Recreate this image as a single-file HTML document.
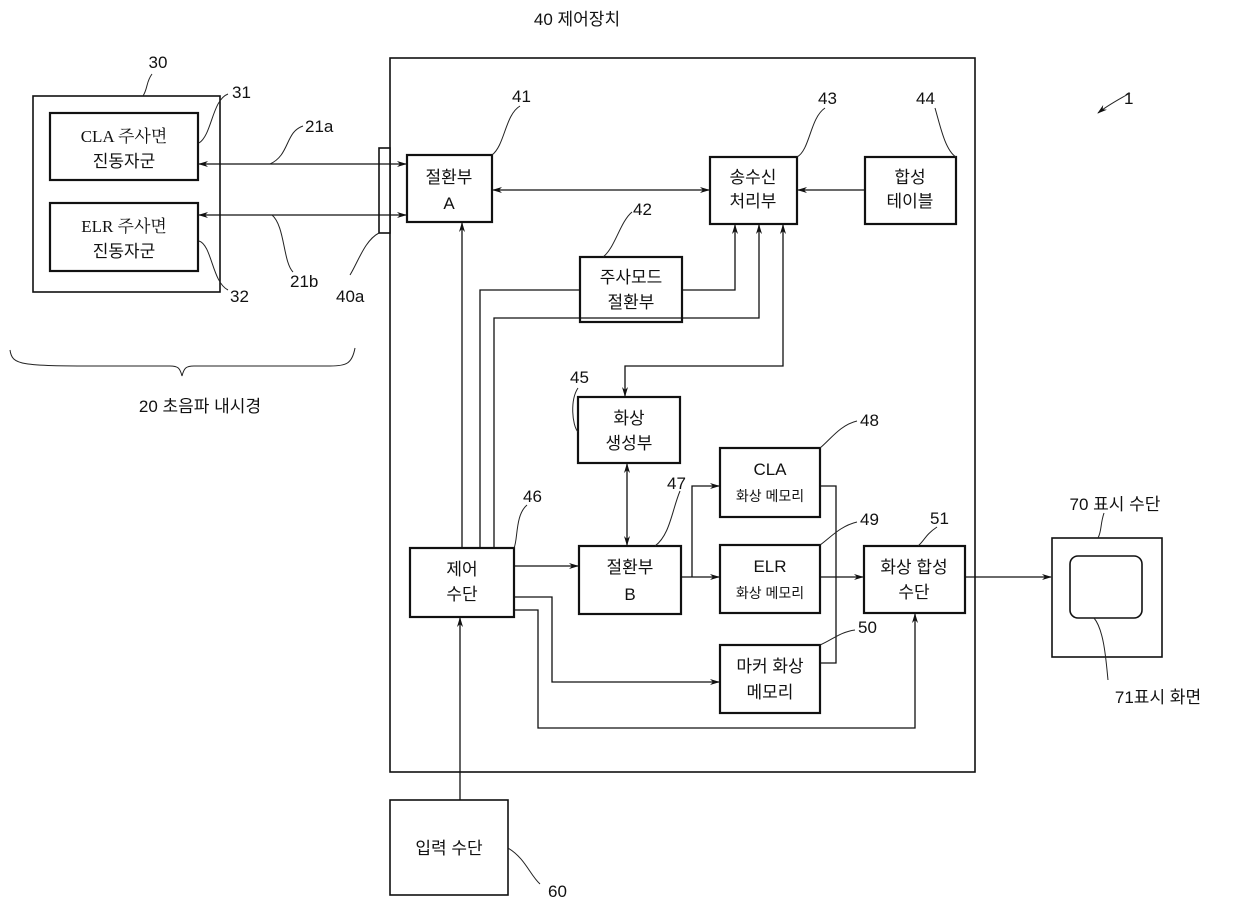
<!DOCTYPE html>
<html><head><meta charset="utf-8"><style>
html,body{margin:0;padding:0;background:#fff}
svg{display:block}
text{font-family:"Liberation Sans","Noto Sans CJK KR",sans-serif;font-size:16px;fill:#111}
.n{font-size:17px}
.b{fill:#fff;stroke:#111;stroke-width:1.6}
.bb{fill:#fff;stroke:#111;stroke-width:2.2}
.l{fill:none;stroke:#111;stroke-width:1.3}
.t{fill:none;stroke:#222;stroke-width:1}
</style></head><body>
<svg width="1240" height="904" viewBox="0 0 1240 904" xmlns="http://www.w3.org/2000/svg">
<defs>
<marker id="a" markerWidth="10" markerHeight="8" refX="9" refY="4" orient="auto" markerUnits="userSpaceOnUse"><path d="M0,1 L10,4 L0,7 L3,4 Z" fill="#111"/></marker>
<marker id="s" markerWidth="10" markerHeight="8" refX="1" refY="4" orient="auto" markerUnits="userSpaceOnUse"><path d="M10,1 L0,4 L10,7 L7,4 Z" fill="#111"/></marker>
</defs>

<rect x="390" y="58" width="585" height="714" class="b" stroke-width="1.3"/>
<text x="577" y="25" text-anchor="middle" class="n">40 제어장치</text>

<rect x="33" y="96" width="187" height="196" class="b" stroke-width="1"/>
<rect x="50" y="113" width="148" height="67" class="bb"/>
<text x="124" y="142" text-anchor="middle" style="font-family:'Liberation Serif','Noto Serif CJK SC',serif;font-size:17px">CLA 주사면</text>
<text x="124" y="167" text-anchor="middle" class="n">진동자군</text>
<rect x="50" y="203" width="148" height="68" class="bb"/>
<text x="124" y="232" text-anchor="middle" style="font-family:'Liberation Serif','Noto Serif CJK SC',serif;font-size:17px">ELR 주사면</text>
<text x="124" y="257" text-anchor="middle" class="n">진동자군</text>
<rect x="379" y="148" width="11" height="85" class="b" stroke-width="1"/>
<line x1="199" y1="164" x2="406" y2="164" class="l" marker-start="url(#s)" marker-end="url(#a)"/>
<line x1="199" y1="215" x2="406" y2="215" class="l" marker-start="url(#s)" marker-end="url(#a)"/>
<text x="158" y="68" text-anchor="middle" class="n">30</text>
<path d="M152,74 C146,82 148,88 143,96" class="t"/>
<text x="232" y="98" class="n">31</text>
<path d="M228,94 C212,100 212,135 199,143" class="t"/>
<text x="305" y="132" class="n">21a</text>
<path d="M303,126 C285,132 290,155 270,164" class="t"/>
<text x="290" y="287" class="n">21b</text>
<path d="M293,272 C283,262 285,226 272,215" class="t"/>
<text x="230" y="302" class="n">32</text>
<path d="M228,290 C212,282 212,245 199,241" class="t"/>
<text x="336" y="302" class="n">40a</text>
<path d="M350,275 C358,262 365,240 379,233" class="t"/>
<path d="M10,350 C12,365 20,366 100,366 L170,366 C178,366 180,368 182,376 C184,368 186,366 194,366 L330,366 C346,366 352,364 355,348" class="t"/>
<text x="200" y="412" text-anchor="middle" class="n">20 초음파 내시경</text>

<text x="1124" y="104" class="n">1</text>
<path d="M1130,93 C1118,100 1108,105 1098,113" class="t" marker-end="url(#a)"/>

<rect x="407" y="155" width="85" height="67" class="bb"/>
<text x="449" y="183" text-anchor="middle" class="n">절환부</text>
<text x="449" y="209" text-anchor="middle" class="n">A</text>
<rect x="710" y="157" width="87" height="67" class="bb"/>
<text x="753" y="183" text-anchor="middle" class="n">송수신</text>
<text x="753" y="207" text-anchor="middle" class="n">처리부</text>
<rect x="865" y="157" width="91" height="67" class="bb"/>
<text x="910" y="183" text-anchor="middle" class="n">합성</text>
<text x="910" y="207" text-anchor="middle" class="n">테이블</text>
<rect x="580" y="257" width="102" height="65" class="bb"/>
<text x="631" y="283" text-anchor="middle" class="n">주사모드</text>
<text x="631" y="308" text-anchor="middle" class="n">절환부</text>
<rect x="578" y="397" width="102" height="66" class="bb"/>
<text x="629" y="424" text-anchor="middle" class="n">화상</text>
<text x="629" y="449" text-anchor="middle" class="n">생성부</text>
<rect x="720" y="448" width="100" height="69" class="bb"/>
<text x="770" y="475" text-anchor="middle" class="n">CLA</text>
<text x="770" y="501" text-anchor="middle" style="font-size:14px">화상 메모리</text>
<rect x="410" y="548" width="104" height="69" class="bb"/>
<text x="462" y="575" text-anchor="middle" class="n">제어</text>
<text x="462" y="600" text-anchor="middle" class="n">수단</text>
<rect x="579" y="546" width="102" height="68" class="bb"/>
<text x="630" y="573" text-anchor="middle" class="n">절환부</text>
<text x="630" y="600" text-anchor="middle" class="n">B</text>
<rect x="720" y="545" width="100" height="68" class="bb"/>
<text x="770" y="572" text-anchor="middle" class="n">ELR</text>
<text x="770" y="598" text-anchor="middle" style="font-size:14px">화상 메모리</text>
<rect x="864" y="546" width="101" height="67" class="bb"/>
<text x="914" y="573" text-anchor="middle" class="n">화상 합성</text>
<text x="914" y="598" text-anchor="middle" class="n">수단</text>
<rect x="720" y="645" width="100" height="68" class="bb"/>
<text x="770" y="672" text-anchor="middle" class="n">마커 화상</text>
<text x="770" y="698" text-anchor="middle" class="n">메모리</text>
<rect x="390" y="800" width="118" height="95" class="b" stroke-width="1"/>
<text x="449" y="854" text-anchor="middle" class="n">입력 수단</text>

<rect x="1052" y="538" width="110" height="119" class="b" stroke-width="1"/>
<rect x="1070" y="556" width="72" height="62" rx="8" class="b" stroke-width="1"/>
<text x="1115" y="510" text-anchor="middle" class="n">70 표시 수단</text>
<path d="M1104,513 C1100,525 1102,530 1098,538" class="t"/>
<text x="1158" y="703" text-anchor="middle" class="n">71표시 화면</text>
<path d="M1108,680 C1106,660 1104,630 1094,618" class="t"/>

<line x1="493" y1="190" x2="709" y2="190" class="l" marker-start="url(#s)" marker-end="url(#a)"/>
<line x1="864" y1="190" x2="798" y2="190" class="l" marker-end="url(#a)"/>
<line x1="462" y1="548" x2="462" y2="223" class="l" marker-end="url(#a)"/>
<polyline points="480,548 480,290 580,290" class="l"/>
<polyline points="682,290 735,290 735,225" class="l" marker-end="url(#a)"/>
<polyline points="494,548 494,318 759,318 759,225" class="l" marker-end="url(#a)"/>
<polyline points="783,225 783,366 625,366 625,396" class="l" marker-start="url(#s)" marker-end="url(#a)"/>
<line x1="627" y1="464" x2="627" y2="545" class="l" marker-start="url(#s)" marker-end="url(#a)"/>
<line x1="514" y1="566" x2="578" y2="566" class="l" stroke-width="2" marker-end="url(#a)"/>
<line x1="681" y1="577" x2="719" y2="577" class="l" marker-end="url(#a)"/>
<polyline points="692,577 692,486 719,486" class="l" marker-end="url(#a)"/>
<polyline points="820,486 836,486 836,663 820,663" class="l"/>
<line x1="820" y1="577" x2="863" y2="577" class="l" marker-end="url(#a)"/>
<polyline points="514,597 552,597 552,682 719,682" class="l" marker-end="url(#a)"/>
<polyline points="514,610 538,610 538,728 915,728 915,614" class="l" marker-end="url(#a)"/>
<line x1="460" y1="800" x2="460" y2="618" class="l" marker-end="url(#a)"/>
<line x1="965" y1="577" x2="1051" y2="577" class="l" marker-end="url(#a)"/>

<text x="512" y="102" class="n">41</text><path d="M520,106 C505,115 505,145 492,155" class="t"/>
<text x="818" y="104" class="n">43</text><path d="M825,108 C810,118 810,150 797,157" class="t"/>
<text x="916" y="104" class="n">44</text><path d="M935,108 C940,125 945,150 956,157" class="t"/>
<text x="633" y="215" class="n">42</text><path d="M632,212 C620,222 615,248 603,257" class="t"/>
<text x="570" y="383" class="n">45</text><path d="M578,388 C570,400 572,425 578,432" class="t"/>
<text x="860" y="426" class="n">48</text><path d="M857,421 C840,425 830,440 820,448" class="t"/>
<text x="667" y="489" class="n">47</text><path d="M680,491 C672,510 670,535 655,546" class="t"/>
<text x="523" y="502" class="n">46</text><path d="M527,505 C515,515 518,540 514,548" class="t"/>
<text x="860" y="525" class="n">49</text><path d="M857,522 C840,526 830,538 820,545" class="t"/>
<text x="930" y="524" class="n">51</text><path d="M937,527 C925,535 925,540 918,546" class="t"/>
<text x="858" y="633" class="n">50</text><path d="M855,630 C840,632 832,640 820,645" class="t"/>
<text x="548" y="897" class="n">60</text><path d="M540,884 C530,875 525,858 508,848" class="t"/>
</svg>
</body></html>
